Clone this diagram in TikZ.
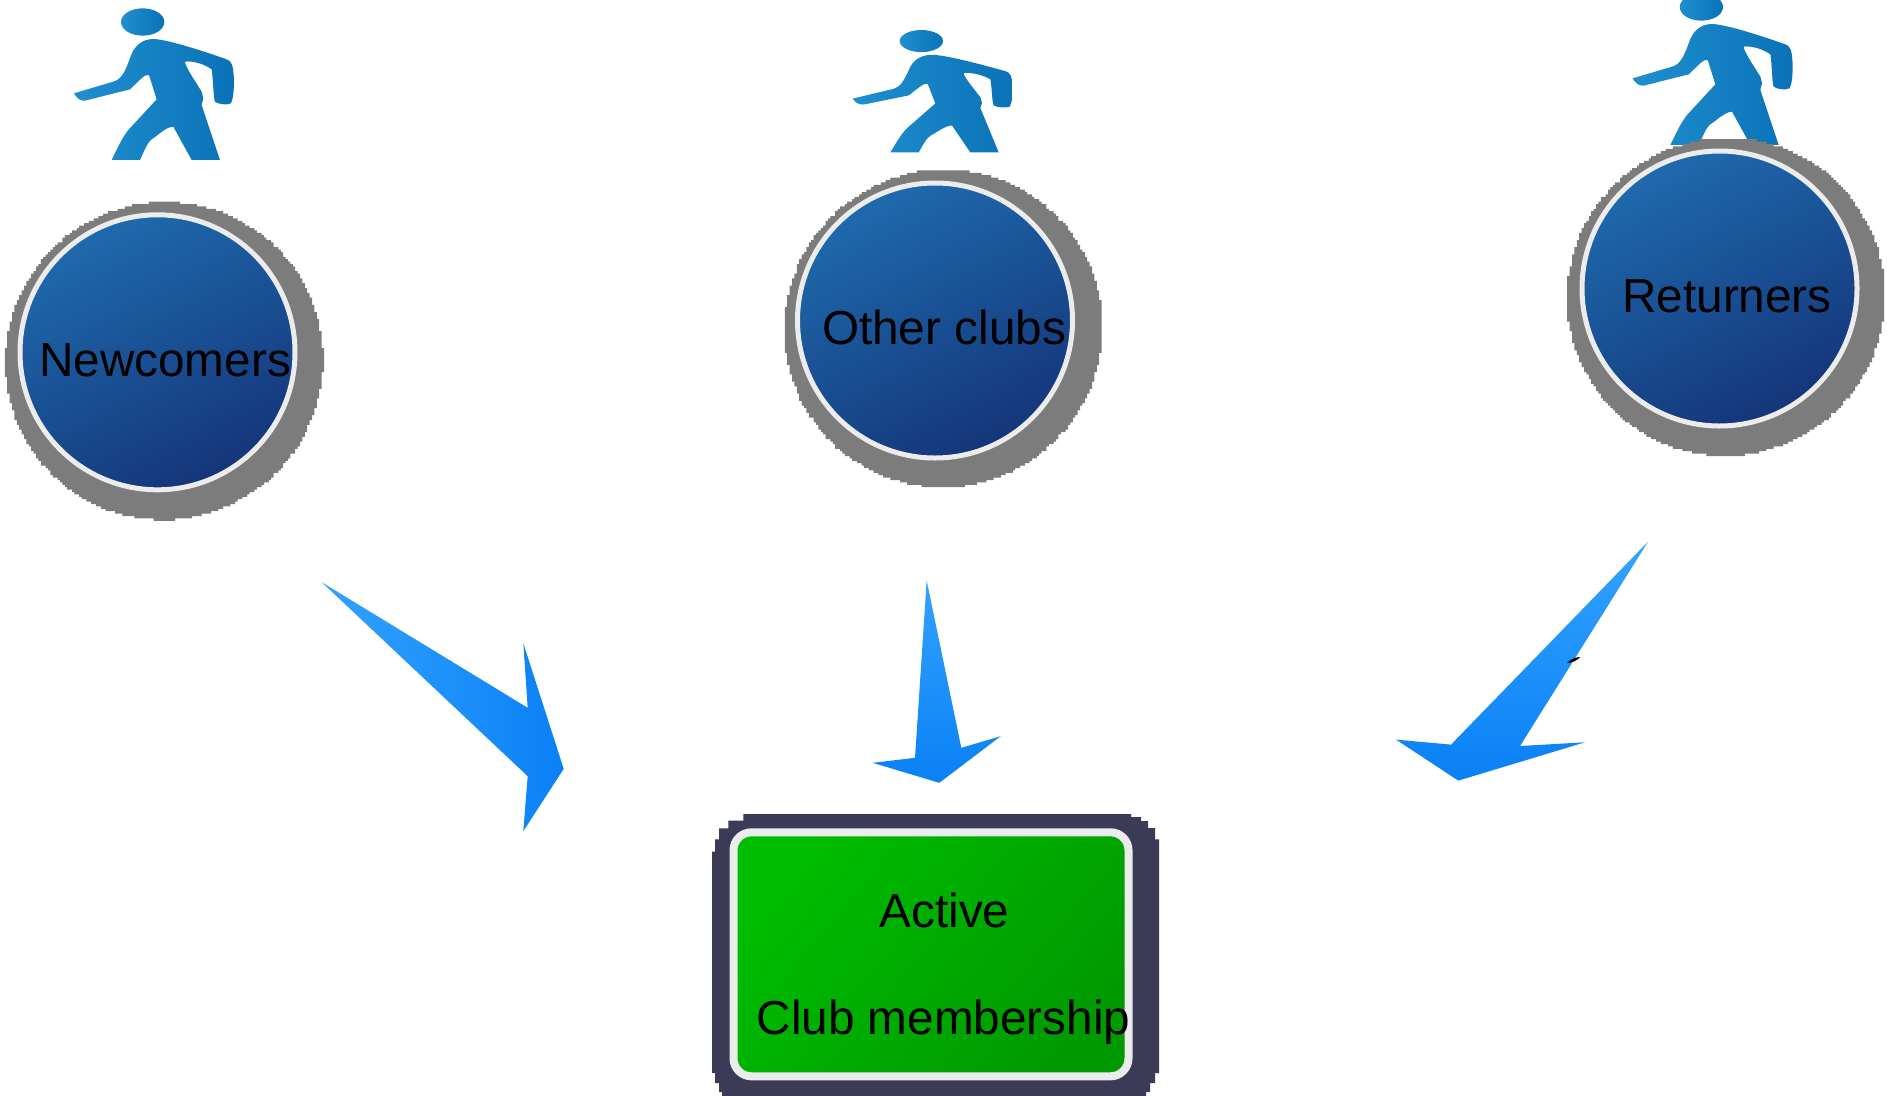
\documentclass[tikz,border=0pt]{standalone}
\usepackage{fontspec}
\setmainfont{Liberation Sans}
\definecolor{ringc}{HTML}{ECECEC}
\definecolor{darkbox}{HTML}{3B3B58}
\definecolor{shadowc}{HTML}{7C7C7C}
\definecolor{bluetop}{HTML}{1E6AAD}
\definecolor{bluebot}{HTML}{15357A}
\definecolor{greenA}{HTML}{00BC00}
\definecolor{greenB}{HTML}{009A00}
\definecolor{arrowA}{HTML}{33A3FF}
\definecolor{arrowB}{HTML}{0A80F5}
\definecolor{walkA}{HTML}{1F8FCE}
\definecolor{walkB}{HTML}{0A72B8}
\tikzset{
  bubble/.style={circle,minimum size=275pt,inner sep=0pt,outer sep=0pt,draw=ringc,line width=5pt,
    top color=bluetop,bottom color=bluebot,middle color=bluetop!50!bluebot,shading angle=28},
  lbl/.style={anchor=base,inner sep=0pt,outer sep=0pt,text=black,font=\fontsize{47.7pt}{50pt}\selectfont},
  clubbox/.style={rectangle,rounded corners=18pt,minimum width=395pt,minimum height=244pt,inner sep=0pt,outer sep=0pt,
    draw=ringc,line width=8pt,top color=greenA,bottom color=greenB,shading angle=50},
  arrowh/.style={top color=arrowA,bottom color=arrowB},
  arrowv/.style={left color=arrowA,right color=arrowB},
  walkbody/.style={left color=walkA,middle color=walkA,right color=walkB},
  walkhead/.style={left color=walkA,right color=walkB},
}
\newcommand{\shadowdisc}[2]{%
  \fill[shadowc] plot[const plot,samples=360,domain=0:360] ({2.4*round((#1+159*cos(\x))/2.4)},{2.4*round((#2+159*sin(\x))/2.4)}) -- cycle;}
\newcommand{\walker}[4]{% xoff yoff xscale yscale
  \begin{scope}[shift={(#1,#2)},xscale=#3,yscale=#4]
    \shade[walkbody] (72,280) -- (190,245) .. controls (215,238) and (225,215) .. (240,175)
      .. controls (250,140) and (275,117) .. (310,117)
      .. controls (350,118) and (450,150) .. (530,178)
      .. controls (545,183) and (550,195) .. (552,240)
      .. controls (552,270) and (550,295) .. (543,310)
      .. controls (530,316) and (505,313) .. (495,305)
      .. controls (490,295) and (490,240) .. (485,208)
      .. controls (460,190) and (425,182) .. (405,185)
      .. controls (405,200) and (440,250) .. (455,275)
      -- (460,295) -- (455,315) -- (510,480) -- (425,480) -- (370,380)
      .. controls (350,380) and (325,405) .. (305,418)
      .. controls (290,430) and (280,460) .. (270,480)
      -- (185,480) .. controls (200,450) and (215,415) .. (235,390)
      -- (320,298) -- (297,225) .. controls (285,220) and (265,245) .. (240,268)
      -- (105,302) .. controls (90,303) and (80,295) .. (72,280) -- cycle;
    \shade[walkhead] (278,66) ellipse [x radius=65,y radius=41];
  \end{scope}}
\begin{document}
\begin{tikzpicture}[x=1pt,y=-1pt]
\useasboundingbox (0,0) rectangle (1887,1095);
\clip (0,0) rectangle (1887,1095);
% walkers
\walker{50}{0}{0.3333}{0.3333}
\walker{828.7}{23.3}{0.3333}{0.269}
\walker{1608.7}{-15}{0.3333}{0.3333}
% shadows
\shadowdisc{164.3}{361}
\shadowdisc{943.5}{328.5}
\shadowdisc{1726}{297}
% circles
\node (newcomers) [bubble] at (157.5,352.3) {};
\node (otherclubs) [bubble] at (935,320.5) {};
\node (returners) [bubble] at (1719.5,288.5) {};
\node (lnew) [lbl] at (165,376) {Newcomers};
\node (loth) [lbl] at (944,344) {Other clubs};
\node (lret) [lbl] at (1727,312) {Returners};
% arrows
\shade[arrowv] (321.7,582.2) -- (527.7,707.8) -- (523.3,643.2) -- (563.7,768.8) -- (523.3,831.2) -- (527.7,776.2) -- cycle;
\shade[arrowh] (926.7,580.5) -- (961.3,747.8) -- (1000.7,736.2) -- (939.3,782.8) -- (872.7,762.8) -- (915,757.8) -- cycle;
\shade[arrowh] (1648,541.7) -- (1520,746) -- (1585,742.3) -- (1458.3,780.6) -- (1396,739.6) -- (1451,744.6) -- cycle;
\fill[black] (1567,663) .. controls (1571,659) and (1576,657) .. (1580,657) .. controls (1578,660) and (1572,663) .. (1567,663) -- cycle;
% box
\fill[darkbox] (743.3,814) -- (1131,814) -- (1131,817) -- (1141,817) -- (1141,821) -- (1148,821) -- (1148,828) -- (1155,828) -- (1155,839.3) -- (1159,839.3) -- (1159,1073) -- (1155,1073) -- (1155,1083) -- (1150,1083) -- (1150,1092) -- (1146,1092) -- (1146,1096) -- (722,1096) -- (722,1092) -- (719,1092) -- (719,1083) -- (715,1083) -- (715,1073) -- (712,1073) -- (712,851.7) -- (715,851.7) -- (715,839.3) -- (719,839.3) -- (719,828.3) -- (728.3,828.3) -- (728.3,820.7) -- (743.3,820.7) -- cycle;
\node (activebox) [clubbox] at (931,954.3) {};
\node (lactive) [lbl] at (944.5,927) {Active};
\node (lclub) [lbl] at (943.5,1034.5) {Club membership};
\end{tikzpicture}
\end{document}
